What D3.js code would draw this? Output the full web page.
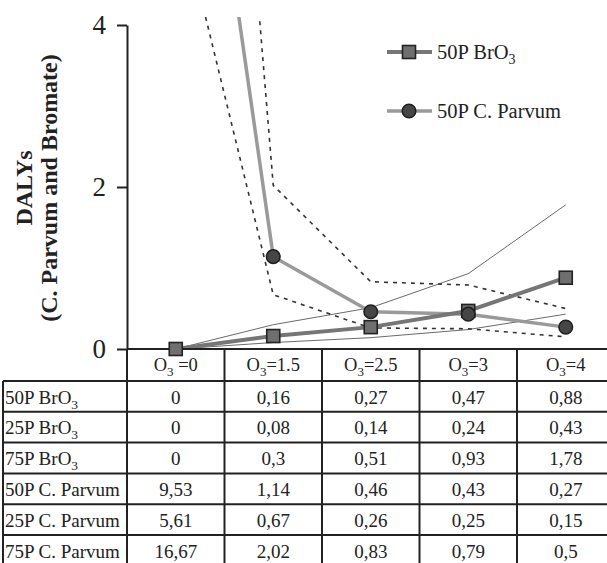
<!DOCTYPE html>
<html>
<head>
<meta charset="utf-8">
<script src="https://cdn.jsdelivr.net/npm/d3@7"></script>
<style>
  html, body { margin: 0; padding: 0; background: #fff; }
  svg { display: block; }
  text { font-family: "Liberation Serif", "Times New Roman", serif; fill: #222; }
</style>
</head>
<body>
<svg id="chart" width="607" height="563"></svg>
<script>
// ---- data ----
const categories = ["0", "1.5", "2.5", "3", "4"];
const headerLabels = ["O3 =0", "O3=1.5", "O3=2.5", "O3=3", "O3=4"];
const bro3_50 = [0, 0.16, 0.27, 0.47, 0.88];
const bro3_25 = [0, 0.08, 0.14, 0.24, 0.43];
const bro3_75 = [0, 0.3, 0.51, 0.93, 1.78];
const cp_50 = [9.53, 1.14, 0.46, 0.43, 0.27];
const cp_25 = [5.61, 0.67, 0.26, 0.25, 0.15];
const cp_75 = [16.67, 2.02, 0.83, 0.79, 0.5];
const rowLabels = ["50P BrO3", "25P BrO3", "75P BrO3", "50P C. Parvum", "25P C. Parvum", "75P C. Parvum"];
const rowValues = [bro3_50, bro3_25, bro3_75, cp_50, cp_25, cp_75];
const yTicks = [0, 2, 4];
const legendLabels = ["50P BrO3", "50P C. Parvum"];

// ---- layout ----
const svg = d3.select("#chart");
const W = 607;
const axisX = 127, y0 = 349, yTop = 25;
const x = d3.scaleBand().domain(categories).range([axisX, 614.5]).padding(0);
const cx = d => x(d) + x.bandwidth() / 2;
const y = d3.scaleLinear().domain([0, 4]).range([y0, yTop]);
const serif = "'Liberation Serif', 'Times New Roman', serif";

// helper: text with subscript "3" after O
function richText(sel, str, subSize, shift) {
  const parts = str.split(/(O3)/).filter(p => p.length);
  let pending = 0;
  parts.forEach(p => {
    if (p === "O3") {
      const a = sel.append("tspan").text("O");
      if (pending) { a.attr("dy", pending); pending = 0; }
      sel.append("tspan").attr("font-size", subSize).attr("dy", shift).text("3");
      pending = -shift;
    } else {
      const a = sel.append("tspan").text(p);
      if (pending) { a.attr("dy", pending); pending = 0; }
    }
  });
}

// clip for lines
svg.append("clipPath").attr("id", "plotclip")
  .append("rect").attr("x", axisX).attr("y", 17).attr("width", W - axisX).attr("height", y0 - 17 + 10);

const line = d3.line().x((d, i) => cx(categories[i])).y(d => y(d));
const gLines = svg.append("g").attr("clip-path", "url(#plotclip)");

[bro3_25, bro3_75].forEach(s => {
  gLines.append("path").attr("d", line(s)).attr("fill", "none")
    .attr("stroke", "#444").attr("stroke-width", 0.8);
});
[cp_25, cp_75].forEach(s => {
  gLines.append("path").attr("d", line(s)).attr("fill", "none")
    .attr("stroke", "#333").attr("stroke-width", 1.6).attr("stroke-dasharray", "4,5");
});
gLines.append("path").attr("d", line(cp_50)).attr("fill", "none")
  .attr("stroke", "#9a9a9a").attr("stroke-width", 3.5).attr("stroke-linejoin", "round");
gLines.append("path").attr("d", line(bro3_50)).attr("fill", "none")
  .attr("stroke", "#767676").attr("stroke-width", 4).attr("stroke-linejoin", "round");

// ---- table ----
const rowH = 30.8;
const headTop = y0, headBot = 381;
const gT = svg.append("g");
const tStroke = "#222";
categories.forEach((c, i) => {
  if (i > 0) gT.append("line").attr("x1", x(c)).attr("x2", x(c)).attr("y1", headTop).attr("y2", 563)
    .attr("stroke", tStroke).attr("stroke-width", 2);
});
gT.append("line").attr("x1", axisX).attr("x2", axisX).attr("y1", headTop).attr("y2", 563)
  .attr("stroke", tStroke).attr("stroke-width", 2);
gT.append("line").attr("x1", 3).attr("x2", 3).attr("y1", headBot).attr("y2", 563)
  .attr("stroke", tStroke).attr("stroke-width", 2);
rowLabels.forEach((r, i) => {
  const yy = headBot + i * rowH;
  gT.append("line").attr("x1", 3).attr("x2", W).attr("y1", yy).attr("y2", yy)
    .attr("stroke", tStroke).attr("stroke-width", 2);
});
headerLabels.forEach((h, i) => {
  const t = gT.append("text").attr("x", cx(categories[i])).attr("y", 371)
    .attr("text-anchor", "middle").attr("font-size", 18.5);
  richText(t, h, 13, 5);
});
rowLabels.forEach((r, i) => {
  const yy = headBot + i * rowH + 22.5;
  const t = gT.append("text").attr("x", 5).attr("y", yy).attr("font-size", 19);
  richText(t, r, 13.5, 5);
  rowValues[i].forEach((v, j) => {
    gT.append("text").attr("x", cx(categories[j])).attr("y", yy)
      .attr("text-anchor", "middle").attr("font-size", 19)
      .text(String(v).replace(".", ","));
  });
});

// ---- axes ----
const yAxis = d3.axisLeft(y).tickValues(yTicks).tickSize(10).tickSizeOuter(0).tickPadding(11)
  .tickFormat(d3.format("d"));
const gy = svg.append("g").attr("transform", `translate(${axisX},0)`).call(yAxis);
gy.attr("font-family", null);
gy.select(".domain").attr("stroke", "#222").attr("stroke-width", 2);
gy.selectAll(".tick line").attr("stroke", "#222").attr("stroke-width", 2);
gy.selectAll(".tick text").style("font-family", serif).attr("font-size", 27).attr("fill", "#222");
svg.append("line").attr("x1", axisX).attr("x2", W).attr("y1", y0).attr("y2", y0)
  .attr("stroke", "#222").attr("stroke-width", 2);

// ---- markers ----
const sq = 13;
svg.append("g").selectAll("rect").data(bro3_50.map((v, i) => ({ v, c: categories[i] })).filter(d => d.v <= 4))
  .join("rect")
  .attr("x", d => cx(d.c) - sq / 2).attr("y", d => y(d.v) - sq / 2)
  .attr("width", sq).attr("height", sq)
  .attr("fill", "#6f6f6f").attr("stroke", "#222").attr("stroke-width", 1.6);
svg.append("g").selectAll("circle").data(cp_50.map((v, i) => ({ v, c: categories[i] })).filter(d => d.v <= 4))
  .join("circle")
  .attr("cx", d => cx(d.c)).attr("cy", d => y(d.v)).attr("r", 6.8)
  .attr("fill", "#464646").attr("stroke", "#1e1e1e").attr("stroke-width", 1.5);

// ---- legend ----
const leg = svg.append("g");
const legY = [52, 111];
legendLabels.forEach((l, i) => {
  leg.append("line").attr("x1", 387).attr("x2", 432).attr("y1", legY[i]).attr("y2", legY[i])
    .attr("stroke", i === 0 ? "#767676" : "#9a9a9a").attr("stroke-width", i === 0 ? 4 : 3.5);
  if (i === 0) {
    leg.append("rect").attr("x", 409 - sq / 2).attr("y", legY[i] - sq / 2).attr("width", sq).attr("height", sq)
      .attr("fill", "#6f6f6f").attr("stroke", "#222").attr("stroke-width", 1.6);
  } else {
    leg.append("circle").attr("cx", 409).attr("cy", legY[i]).attr("r", 6.8)
      .attr("fill", "#464646").attr("stroke", "#1e1e1e").attr("stroke-width", 1.5);
  }
  const t = leg.append("text").attr("x", 437).attr("y", legY[i] + 7).attr("font-size", 20.5);
  richText(t, l, 14, 5);
});

// ---- y title ----
const yt = svg.append("g").attr("transform", "translate(0,188)");
yt.append("text").attr("transform", "translate(32,0) rotate(-90)").attr("text-anchor", "middle")
  .attr("font-size", 24).attr("font-weight", "bold").text("DALYs");
yt.append("text").attr("transform", "translate(57,0) rotate(-90)").attr("text-anchor", "middle")
  .attr("font-size", 24).attr("font-weight", "bold").text("(C. Parvum and Bromate)");
</script>
</body>
</html>
